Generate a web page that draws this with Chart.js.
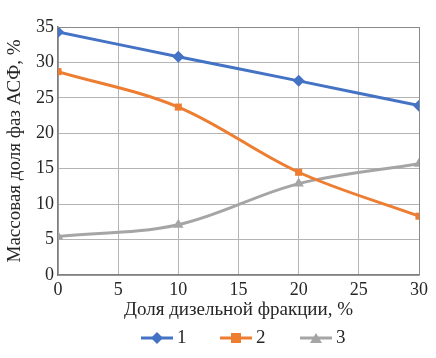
<!DOCTYPE html>
<html><head><meta charset="utf-8">
<script src="https://cdn.jsdelivr.net/npm/chart.js@4/dist/chart.umd.min.js"></script>
<style>html,body{margin:0;padding:0;background:#fff}#c{display:block}</style>
</head><body>
<div style="width:436px;height:358px"><canvas id="c" width="436" height="358"></canvas></div>
<script>
const xValues = [0, 10, 20, 30];
const series1 = [34.3, 30.8, 27.4, 23.9];
const series2 = [28.7, 23.7, 14.5, 8.3];
const series3 = [5.45, 7.1, 12.9, 15.7];
const seriesLabels = ['1', '2', '3'];
const xTitle = 'Доля дизельной фракции, %';
const yTitle = 'Массовая доля фаз АСФ, %';

const colors = ['#4472c4', '#ed7d31', '#a5a5a5'];
const styles = ['rectRot', 'rect', 'triangle'];
const radii = [6, 5, 6];
const FONT = '"Liberation Serif", "DejaVu Serif", serif';
const TXT = '#262626';

function drawMarker(ctx, style, x, y, color) {
  ctx.fillStyle = color;
  ctx.beginPath();
  if (style === 'rectRot') { ctx.moveTo(x, y - 6); ctx.lineTo(x + 6, y); ctx.lineTo(x, y + 6); ctx.lineTo(x - 6, y); }
  else if (style === 'rect') { ctx.rect(x - 5, y - 5, 10, 10); }
  else { ctx.moveTo(x, y - 5); ctx.lineTo(x + 6, y + 5); ctx.lineTo(x - 6, y + 5); }
  ctx.closePath(); ctx.fill();
}

const datasets = [series1, series2, series3].map((s, i) => ({
  label: seriesLabels[i],
  data: s.map((v, j) => ({x: xValues[j], y: v})),
  borderColor: colors[i], backgroundColor: colors[i],
  borderWidth: 3, pointStyle: styles[i], pointRadius: radii[i],
  pointBorderWidth: 0, tension: 0.35, fill: false
}));

new Chart(document.getElementById('c'), {
  type: 'line',
  data: { datasets },
  options: {
    responsive: false, animation: false,
    layout: { padding: { left: 4, right: 17, top: 27, bottom: 37 } },
    plugins: { tooltip: { enabled: false }, legend: { display: false } },
    scales: {
      x: {
        type: 'linear', min: 0, max: 30,
        afterFit: s => { s.height = 46; },
        ticks: { stepSize: 5, color: TXT, font: { family: FONT, size: 18 }, padding: 4, maxRotation: 0 },
        grid: { color: '#b4b4b4', lineWidth: 1, drawTicks: false },
        border: { color: '#7f7f7f', width: 1.5 },
        title: { display: true, text: xTitle, color: TXT, font: { family: FONT, size: 19 }, padding: { top: 0, bottom: 0 } }
      },
      y: {
        min: 0, max: 35,
        afterFit: s => { s.width = 54; },
        ticks: { stepSize: 5, color: TXT, font: { family: FONT, size: 18 }, padding: 4 },
        grid: { color: '#b4b4b4', lineWidth: 1, drawTicks: false },
        border: { color: '#7f7f7f', width: 1.5 },
        title: { display: true, text: yTitle, color: TXT, font: { family: FONT, size: 19 }, padding: { top: 0, bottom: 0 } }
      }
    }
  },
  plugins: [{
    id: 'frameLegend',
    afterDraw(chart) {
      const a = chart.chartArea, ctx = chart.ctx;
      ctx.save(); ctx.strokeStyle = '#8a8a8a'; ctx.lineWidth = 1;
      ctx.beginPath(); ctx.moveTo(a.left, a.top + 0.5); ctx.lineTo(a.right + 0.5, a.top + 0.5); ctx.lineTo(a.right + 0.5, a.bottom); ctx.stroke();
      // legend
      const starts = [141, 220, 300], ly = 338;
      ctx.font = '19px ' + FONT; ctx.textBaseline = 'middle'; ctx.textAlign = 'left';
      seriesLabels.forEach((l, i) => {
        const x0 = starts[i];
        ctx.strokeStyle = colors[i]; ctx.lineWidth = 3;
        ctx.beginPath(); ctx.moveTo(x0, ly); ctx.lineTo(x0 + 32, ly); ctx.stroke();
        drawMarker(ctx, styles[i], x0 + 16, ly, colors[i]);
        ctx.fillStyle = TXT; ctx.fillText(l, x0 + 36, ly);
      });
      ctx.restore();
    }
  }]
});
</script>
</body></html>
